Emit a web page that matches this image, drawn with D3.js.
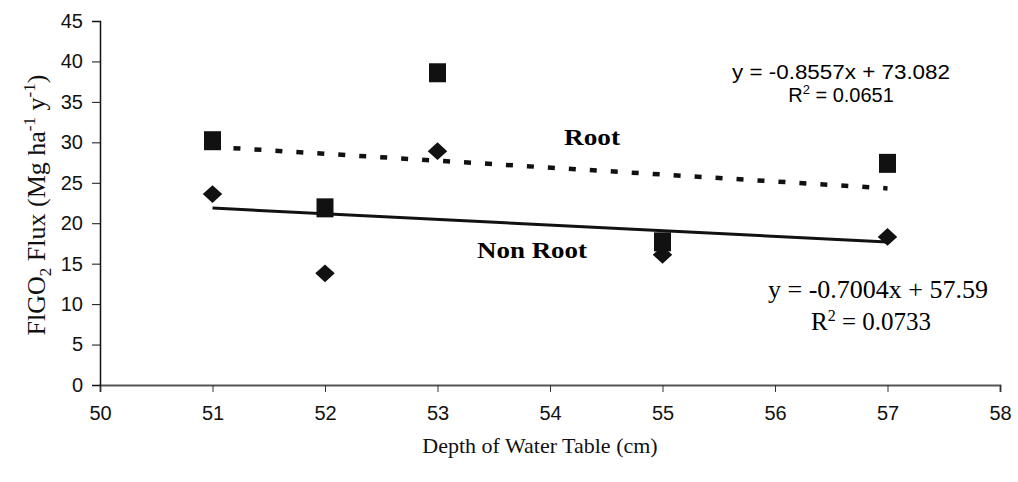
<!DOCTYPE html>
<html><head><meta charset="utf-8">
<script src="https://cdn.jsdelivr.net/npm/d3@7"></script>
<style>body{margin:0;background:#fff}svg{display:block}</style>
</head><body>
<svg id="c" width="1018" height="482"></svg>
<script>
const depths = [51, 52, 53, 55, 57];
const rootFlux = [30.2, 21.9, 38.6, 17.7, 27.4];
const nonRootFlux = [23.6, 13.8, 28.9, 16.1, 18.3];
const xTicks = [50, 51, 52, 53, 54, 55, 56, 57, 58];
const yTicks = [0, 5, 10, 15, 20, 25, 30, 35, 40, 45];
const rootFit = {slope: -0.8557, intercept: 73.082, r2: "0.0651"};
const nonRootFit = {slope: -0.7004, intercept: 57.59, r2: "0.0733"};

const svg = d3.select("#c");
const x = d3.scaleLinear().domain([50, 58]).range([100, 1000]);
const y = d3.scaleLinear().domain([0, 45]).range([385, 21]);

// x axis
const xa = svg.append("g").attr("transform", "translate(0,385)")
  .call(d3.axisBottom(x).tickValues(xTicks).tickSize(7).tickPadding(14).tickFormat(d3.format("d")));
xa.select(".domain").attr("stroke", "#555").attr("stroke-width", 2);
xa.selectAll(".tick line").attr("stroke", "#333");
xa.selectAll("text").attr("font-family", "Liberation Sans, Arial, sans-serif").attr("font-size", 20).attr("fill", "#111");

// y axis
const ya = svg.append("g").attr("transform", "translate(100,0)")
  .call(d3.axisLeft(y).tickValues(yTicks).tickSize(8).tickPadding(9));
ya.select(".domain").attr("stroke", "#111").attr("stroke-width", 1.5);
ya.selectAll(".tick line").attr("stroke", "#111");
ya.selectAll("text").attr("font-family", "Liberation Sans, Arial, sans-serif").attr("font-size", 20).attr("fill", "#111");

// trend lines
const xr = [depths[0], depths[depths.length - 1]];
svg.append("line")
  .attr("x1", x(xr[0])).attr("x2", x(xr[1]))
  .attr("y1", y(rootFit.slope * xr[0] + rootFit.intercept))
  .attr("y2", y(rootFit.slope * xr[1] + rootFit.intercept))
  .attr("stroke", "#111").attr("stroke-width", 4.5).attr("stroke-dasharray", "7,14");
svg.append("line")
  .attr("x1", x(xr[0])).attr("x2", x(xr[1]))
  .attr("y1", y(nonRootFit.slope * xr[0] + nonRootFit.intercept))
  .attr("y2", y(nonRootFit.slope * xr[1] + nonRootFit.intercept))
  .attr("stroke", "#111").attr("stroke-width", 3);

// markers
svg.selectAll(".sq").data(depths).join("rect").attr("class", "sq")
  .attr("x", d => x(d) - 8.5).attr("y", (d, i) => y(rootFlux[i]) - 9.5)
  .attr("width", 17).attr("height", 19).attr("fill", "#111");
svg.selectAll(".dm").data(depths).join("path").attr("class", "dm")
  .attr("d", d3.symbol().type(d3.symbolDiamond2).size(200))
  .attr("transform", (d, i) => `translate(${x(d)},${y(nonRootFlux[i])}) scale(1.1,1)`)
  .attr("fill", "#111");

// labels
const serif = "Liberation Serif, Times New Roman, serif";
const sans = "Liberation Sans, Arial, sans-serif";
svg.append("text").attr("x", 592).attr("y", 145).attr("text-anchor", "middle")
  .attr("font-family", serif).attr("font-weight", "bold").attr("font-size", 24)
  .attr("textLength", 56).attr("lengthAdjust", "spacingAndGlyphs").text("Root");
svg.append("text").attr("x", 532).attr("y", 258).attr("text-anchor", "middle")
  .attr("font-family", serif).attr("font-weight", "bold").attr("font-size", 24)
  .attr("textLength", 110).attr("lengthAdjust", "spacingAndGlyphs").text("Non Root");

// root equation
svg.append("text").attr("x", 841).attr("y", 79).attr("text-anchor", "middle")
  .attr("font-family", sans).attr("font-size", 20)
  .attr("textLength", 218).attr("lengthAdjust", "spacingAndGlyphs")
  .text(`y = ${rootFit.slope}x  + ${rootFit.intercept}`);
const r1 = svg.append("text").attr("x", 841).attr("y", 102).attr("text-anchor", "middle")
  .attr("font-family", sans).attr("font-size", 20);
r1.append("tspan").text("R");
r1.append("tspan").attr("dy", -8).attr("font-size", 13).text("2");
r1.append("tspan").attr("dy", 8).text(" = " + rootFit.r2);

// non-root equation
svg.append("text").attr("x", 878).attr("y", 298).attr("text-anchor", "middle")
  .attr("font-family", serif).attr("font-size", 25)
  .attr("textLength", 220).attr("lengthAdjust", "spacingAndGlyphs")
  .text(`y = ${nonRootFit.slope}x + ${nonRootFit.intercept}`);
const r2 = svg.append("text").attr("x", 871).attr("y", 330).attr("text-anchor", "middle")
  .attr("font-family", serif).attr("font-size", 25);
r2.append("tspan").text("R");
r2.append("tspan").attr("dy", -9).attr("font-size", 16).text("2");
r2.append("tspan").attr("dy", 9).text(" = " + nonRootFit.r2);

// axis titles
svg.append("text").attr("x", 540).attr("y", 453).attr("text-anchor", "middle")
  .attr("font-family", serif).attr("font-size", 22).attr("fill", "#111")
  .text("Depth of Water Table (cm)");
const yt = svg.append("text").attr("transform", "translate(45,205) rotate(-90)")
  .attr("text-anchor", "middle").attr("font-family", serif).attr("font-size", 26).attr("fill", "#111");
yt.append("tspan").text("FlGO");
yt.append("tspan").attr("dy", 6).attr("font-size", 17).text("2");
yt.append("tspan").attr("dy", -6).text(" Flux (Mg ha");
yt.append("tspan").attr("dy", -10).attr("font-size", 17).text("-1");
yt.append("tspan").attr("dy", 10).text(" y");
yt.append("tspan").attr("dy", -10).attr("font-size", 17).text("-1");
yt.append("tspan").attr("dy", 10).text(")");
</script>
</body></html>
